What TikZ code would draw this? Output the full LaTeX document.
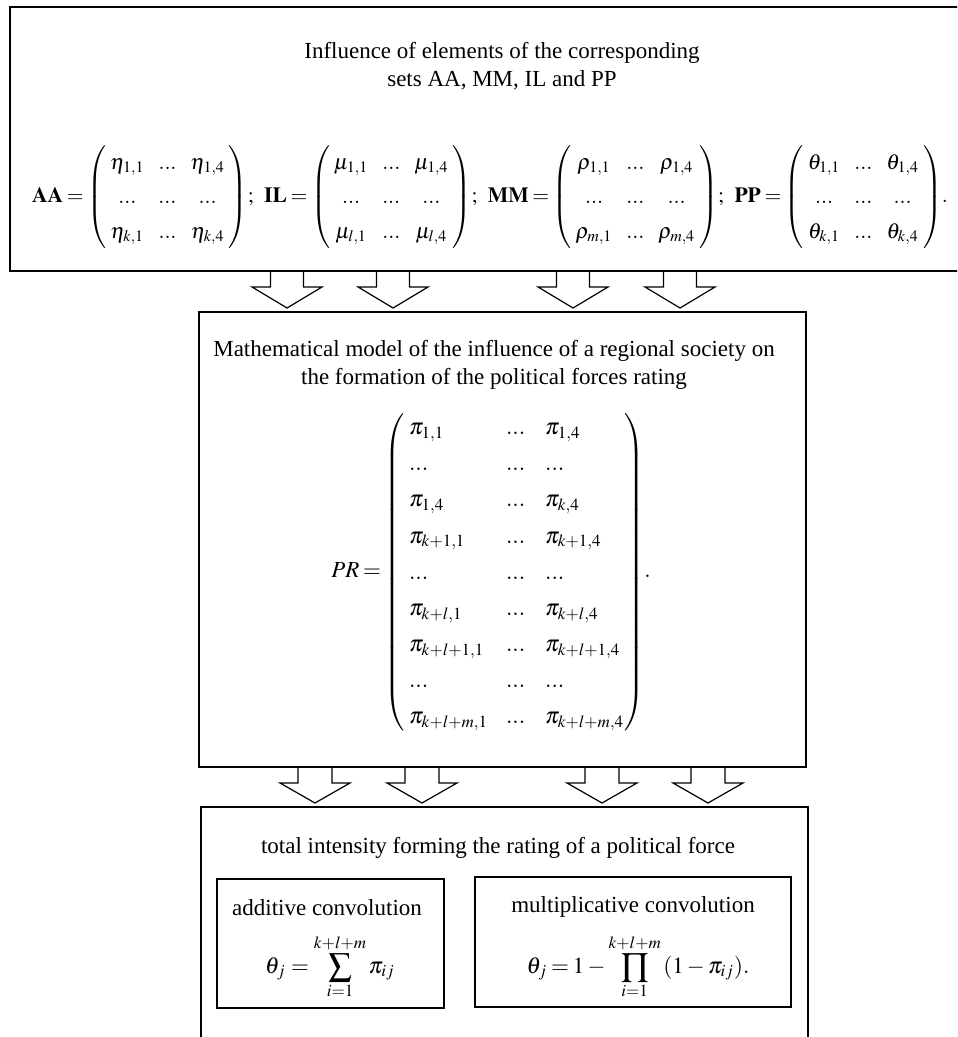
\documentclass[tikz,border=0pt]{standalone}
\usepackage{amsmath}
\usepackage{mathptmx}
\usepackage{fontspec}
\setmainfont{Liberation Serif}
\usetikzlibrary{positioning,fit}

\newcommand{\tmat}[2]{\left(\begin{array}{@{\hspace{2pt}}c@{\hspace{7pt}}c@{\hspace{7pt}}c@{\hspace{2pt}}}
#1_{1,1} & ... & #1_{1,4}\\
... & ... & ...\\
#1_{#2,1} & ... & #1_{#2,4}
\end{array}\right)}

\begin{document}
\begin{tikzpicture}[x=0.5pt,y=-0.5pt]
\tikzset{box/.style={draw,line width=0.8pt,inner sep=0pt},
txt/.style={align=center,inner sep=0pt,font=\fontsize{11.5}{14}\selectfont},
blockdown/.style={draw,line width=0.6pt,line join=miter}}
\useasboundingbox (0,0) rectangle (957,1037);
\clip (0,0) rectangle (957,1037);

% boxes
\coordinate (T1) at (10,7);
\coordinate (T2) at (994,271);
\coordinate (M1) at (199,312);
\coordinate (M2) at (806,767);
\coordinate (B1) at (201,807);
\coordinate (B2) at (808,1100);
\coordinate (A1) at (217,879);
\coordinate (A2) at (444,1008);
\coordinate (P1) at (475,877);
\coordinate (P2) at (791,1007);

\node[box,line width=1pt,fit=(T1)(T2)] (sets) {};
\node[box,fit=(M1)(M2)] (model) {};
\node[box,fit=(B1)(B2)] (total) {};
\node[box,line width=0.7pt,fit=(A1)(A2)] (addconv) {};
\node[box,line width=0.7pt,fit=(P1)(P2)] (mulconv) {};

% top
\node[txt] (setstitle) at (502,66) {Influence of elements of the corresponding\\ sets AA, MM, IL and PP};
\node[txt,font=\fontsize{10.8}{13.2}\selectfont] (setsmat) at (490,197) {\thickmuskip=3mu\renewcommand{\arraystretch}{1.3}%
$\mathbf{AA}=\tmat{\eta}{k}\!;\hspace{4pt}\mathbf{IL}=\tmat{\mu}{l}\!;\hspace{4pt}\mathbf{MM}=\tmat{\rho}{m}\!;\hspace{4pt}\mathbf{PP}=\tmat{\theta}{k}\!.$};

\foreach \x in {287,393,573,680}
\draw[blockdown] (\x-16.5,271) -- (\x-16.5,287) -- (\x-35,287) -- (\x,308) -- (\x+35,287) -- (\x+16.5,287) -- (\x+16.5,271);

% middle
\node[txt] (modeltitle) at (494,365) {Mathematical model of the influence of a regional society on\\ the formation of the political forces rating};
\node[txt] (prmat) at (491,572) {\thickmuskip=3mu\renewcommand{\arraystretch}{1.29}%
$PR=\left(\begin{array}{@{\hspace{2pt}}l@{\hspace{9pt}}l@{\hspace{10pt}}l@{}}
\pi_{1,1} & ... & \pi_{1,4}\\
... & ... & ...\\
\pi_{1,4} & ... & \pi_{k,4}\\
\pi_{k+1,1} & ... & \pi_{k+1,4}\\
... & ... & ...\\
\pi_{k+l,1} & ... & \pi_{k+l,4}\\
\pi_{k+l+1,1} & ... & \pi_{k+l+1,4}\\
... & ... & ...\\
\pi_{k+l+m,1} & ... & \pi_{k+l+m,4}
\end{array}\right)\!.$};

\foreach \x in {315,422,602,708}
\draw[blockdown] (\x-17,767) -- (\x-17,783) -- (\x-35,783) -- (\x,803) -- (\x+35,783) -- (\x+17,783) -- (\x+17,767);

% bottom
\node[txt] (totaltitle) at (498,848) {total intensity forming the rating of a political force};
\node[txt] (addtitle) at (327,908) {additive convolution};
\node[txt] (addform) at (330,967) {$\displaystyle\theta_j=\sum_{i=1}^{k+l+m}\pi_{ij}$};
\node[txt] (multitle) at (633,907) {multiplicative convolution};
\node[txt] (mulform) at (638,967) {\thickmuskip=3mu$\displaystyle\theta_j=1-\prod_{i=1}^{k+l+m}\left(1-\pi_{ij}\right)\!.$};

\end{tikzpicture}
\end{document}
